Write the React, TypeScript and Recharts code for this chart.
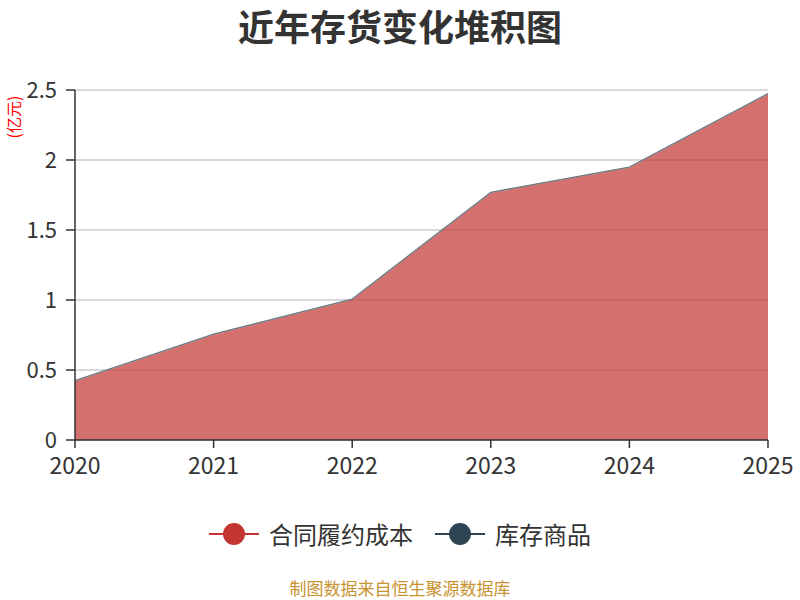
import React from 'react'
import { AreaChart, Area, XAxis, YAxis, CartesianGrid } from 'recharts'

const years = ['2020', '2021', '2022', '2023', '2024', '2025']
const contractCost = [0.42, 0.752, 1.002, 1.765, 1.945, 2.47]
const inventoryGoods = [0.005, 0.005, 0.005, 0.005, 0.005, 0.005]
const yTicks = [0, 0.5, 1, 1.5, 2, 2.5]

const RED = '#c23531'
const SLATE = '#2f4554'
const FONT = "'Noto Sans CJK SC', 'Noto Sans', sans-serif"

const data = years.map((year, i) => ({
  year,
  contract: contractCost[i],
  goods: inventoryGoods[i],
}))

function LegendItem({ color, label }: { color: string; label: string }) {
  return (
    <div style={{ display: 'flex', alignItems: 'center' }}>
      <svg width={50} height={24} style={{ marginRight: 10 }}>
        <line x1={0} y1={12} x2={50} y2={12} stroke={color} strokeWidth={2} />
        <circle cx={25} cy={12} r={11} fill={color} />
      </svg>
      <span style={{ fontSize: 24, color: '#333' }}>{label}</span>
    </div>
  )
}

export default function App() {
  return (
    <div style={{ position: 'absolute', left: 0, top: 0, width: 800, height: 600, fontFamily: FONT, background: '#fff' }}>
      <div style={{ position: 'absolute', top: -1, width: 800, textAlign: 'center', fontSize: 36, fontWeight: 'bold', color: '#333' }}>
        近年存货变化堆积图
      </div>
      <div
        style={{
          position: 'absolute',
          left: 13,
          top: 117,
          transform: 'translate(-50%, -50%) rotate(-90deg)',
          fontSize: 16,
          color: '#ff0000',
          whiteSpace: 'nowrap',
        }}
      >
        (亿元)
      </div>
      <AreaChart
        width={800}
        height={600}
        data={data}
        margin={{ top: 90, right: 32, left: 0, bottom: 120 }}
        style={{ fontFamily: FONT }}
      >
        <CartesianGrid vertical={false} stroke="#ccc" strokeWidth={1.5} />
        <XAxis
          dataKey="year"
          height={40}
          tick={{ fill: '#333', fontSize: 23 }}
          tickMargin={10}
          tickSize={8}
          stroke="#333"
          strokeWidth={1.5}
          tickLine={{ stroke: '#333' }}
        />
        <YAxis
          width={75}
          domain={[0, 2.5]}
          ticks={yTicks}
          tick={{ fill: '#333', fontSize: 22 }}
          tickMargin={9}
          tickSize={9}
          stroke="#333"
          strokeWidth={1.5}
          tickFormatter={(v: number) => String(v)}
        />
        <Area
          type="linear"
          dataKey="contract"
          name="合同履约成本"
          stackId="a"
          stroke={RED}
          strokeWidth={0}
          fill={RED}
          fillOpacity={0.7}
          isAnimationActive={false}
        />
        <Area
          type="linear"
          dataKey="goods"
          name="库存商品"
          stackId="a"
          stroke="#6b7b84"
          strokeWidth={1.2}
          fill={SLATE}
          fillOpacity={0.7}
          isAnimationActive={false}
        />
      </AreaChart>
      <div style={{ position: 'absolute', top: 516, left: 0, width: 800, display: 'flex', justifyContent: 'center', gap: 22 }}>
        <LegendItem color={RED} label="合同履约成本" />
        <LegendItem color={SLATE} label="库存商品" />
      </div>
      <div style={{ position: 'absolute', top: 575, width: 800, textAlign: 'center', fontSize: 17, color: '#c8922f' }}>
        制图数据来自恒生聚源数据库
      </div>
    </div>
  )
}
